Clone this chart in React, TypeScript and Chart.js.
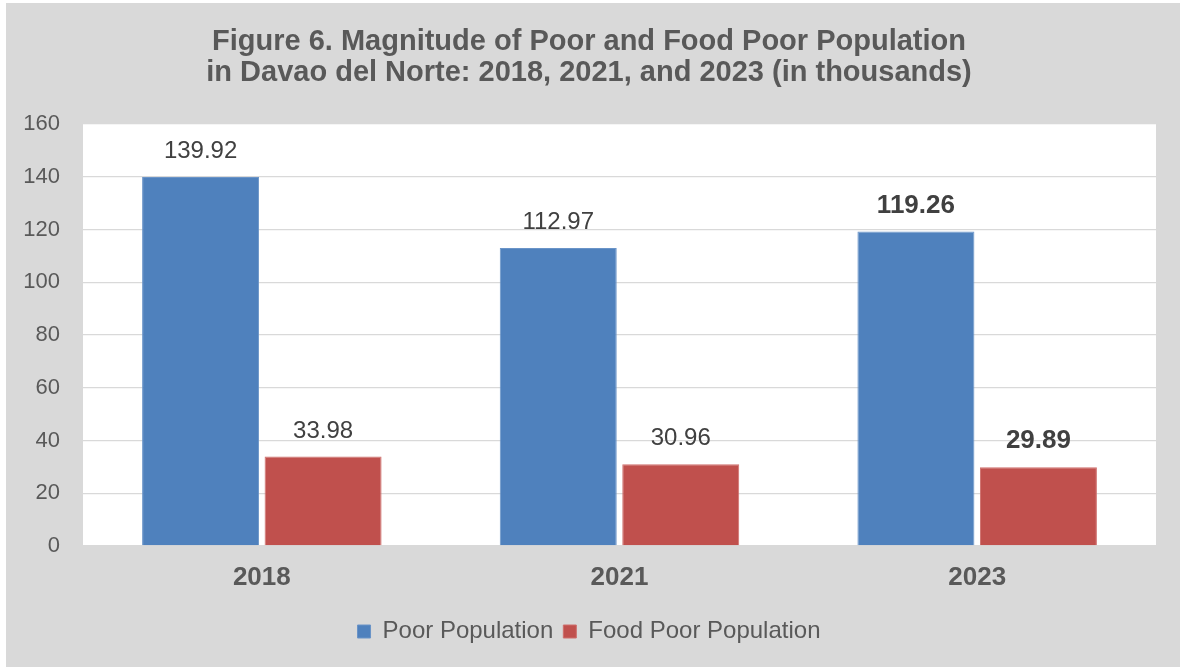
import React, { useEffect, useRef } from "react";
import { Chart, registerables } from "chart.js";

Chart.register(...registerables);

const categories = ["2018", "2021", "2023"];
const poorPopulation = [139.92, 112.97, 119.26];
const foodPoorPopulation = [33.98, 30.96, 29.89];
const seriesNames = ["Poor Population", "Food Poor Population"];
const titleLines = [
  "Figure 6. Magnitude of Poor and Food Poor Population",
  "in Davao del Norte: 2018, 2021, and 2023 (in thousands)",
];
const boldLabelIndex = 2;

const FONT = "'Liberation Sans', Arial, sans-serif";

const plotBgPlugin = {
  id: "plotBg",
  beforeDraw(chart: any) {
    const { ctx, chartArea } = chart;
    ctx.save();
    ctx.fillStyle = "#ffffff";
    ctx.fillRect(chartArea.left, chartArea.top, chartArea.right - chartArea.left, chartArea.bottom - chartArea.top);
    ctx.restore();
  },
};

const valueLabelPlugin = {
  id: "valueLabels",
  afterDatasetsDraw(chart: any) {
    const { ctx } = chart;
    ctx.save();
    ctx.textAlign = "center";
    ctx.textBaseline = "middle";
    chart.data.datasets.forEach((ds: any, di: number) => {
      const meta = chart.getDatasetMeta(di);
      meta.data.forEach((bar: any, i: number) => {
        const bold = i === boldLabelIndex;
        ctx.font = bold ? `bold 26px ${FONT}` : `24px ${FONT}`;
        ctx.fillStyle = "#404040";
        ctx.fillText(Number(ds.data[i]).toFixed(2), bar.x, bar.y - (bold ? 26 : 25.5));
      });
    });
    ctx.restore();
  },
};

export default function App() {
  const ref = useRef<HTMLCanvasElement | null>(null);
  useEffect(() => {
    if (!ref.current) return;
    const chart = new Chart(ref.current, {
      type: "bar",
      data: {
        labels: categories,
        datasets: [
          {
            label: seriesNames[0],
            data: poorPopulation,
            backgroundColor: "#4f81bd",
            borderColor: "#6a94c8",
            borderWidth: 1,
            categoryPercentage: 0.685,
            barPercentage: 0.955,
          },
          {
            label: seriesNames[1],
            data: foodPoorPopulation,
            backgroundColor: "#c0504d",
            borderColor: "#cf6f6c",
            borderWidth: 1,
            categoryPercentage: 0.685,
            barPercentage: 0.955,
          },
        ],
      },
      options: {
        animation: false,
        responsive: false,
        maintainAspectRatio: false,
        layout: { padding: { left: 16, right: 24, top: 0, bottom: 13.5 } },
        scales: {
          x: {
            grid: { display: false, drawTicks: false },
            border: { display: false },
            ticks: {
              color: "#595959",
              font: { family: FONT, size: 26, weight: "bold", lineHeight: 1.2 },
              padding: 16,
            },
            afterFit(scale: any) {
              scale.height = 63.5;
            },
          },
          y: {
            min: 0,
            max: 160,
            grid: { color: "#d9d9d9", lineWidth: 1.3, drawTicks: false },
            border: { display: false },
            ticks: {
              stepSize: 20,
              color: "#595959",
              font: { family: FONT, size: 22 },
              padding: 23,
            },
            afterFit(scale: any) {
              scale.width = 61;
            },
          },
        },
        plugins: {
          title: {
            display: true,
            text: titleLines,
            color: "#595959",
            font: { family: FONT, size: 29, weight: "bold", lineHeight: 1.08 },
            padding: { top: 23, bottom: 35.4 },
          },
          legend: {
            position: "bottom",
            labels: {
              color: "#595959",
              font: { family: FONT, size: 24 },
              boxWidth: 13,
              boxHeight: 13,
              padding: 10,
            },
          },
          tooltip: { enabled: false },
        },
      },
      plugins: [plotBgPlugin, valueLabelPlugin],
    } as any);
    return () => chart.destroy();
  }, []);

  return (
    <div
      style={{
        position: "absolute",
        left: 6,
        top: 3,
        width: 1174,
        height: 664,
        background: "#d9d9d9",
      }}
    >
      <canvas ref={ref} width={1174} height={664} style={{ display: "block" }} />
    </div>
  );
}
